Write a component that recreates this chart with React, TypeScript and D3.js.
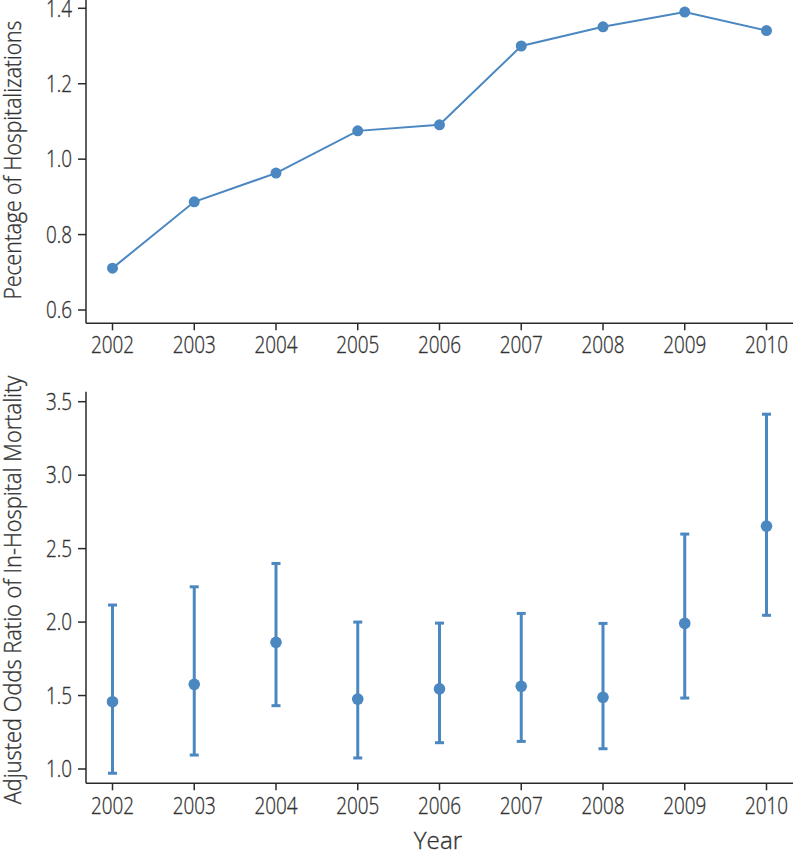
import React from "react";
import * as d3 from "d3";

const years = [2002, 2003, 2004, 2005, 2006, 2007, 2008, 2009, 2010];
const pctHosp = [0.711, 0.887, 0.963, 1.075, 1.091, 1.3, 1.351, 1.39, 1.341];
const oddsRatio = [1.458, 1.576, 1.862, 1.476, 1.546, 1.563, 1.488, 1.991, 2.653];
const ciLower = [0.971, 1.095, 1.431, 1.075, 1.179, 1.188, 1.138, 1.483, 2.046];
const ciUpper = [2.116, 2.24, 2.399, 2.0, 1.993, 2.059, 1.991, 2.599, 3.415];
const topTicks = [0.6, 0.8, 1.0, 1.2, 1.4];
const bottomTicks = [1.0, 1.5, 2.0, 2.5, 3.0, 3.5];

const COLOR = "#4b87c0";
const AXIS = "#2a2a2a";
const TEXT = "#333";
const FONT = "'Open Sans', sans-serif";

export default function App() {
  const x = d3.scalePoint<number>().domain(years).range([112.5, 766.5]);
  const yTop = d3.scaleLinear().domain([0.6, 1.4]).range([310, 8.3]);
  const yBot = d3.scaleLinear().domain([1.0, 3.5]).range([769, 401.7]);
  const axisX = 86;
  const topBase = 323.3;
  const botBase = 783.3;

  const line = d3
    .line<number>()
    .x((_, i) => x(years[i]) as number)
    .y((d) => yTop(d));

  const txt = (
    key: string,
    tx: number,
    ty: number,
    s: string,
    anchor: string,
    size = 23,
    rot = 0,
    sx = 0.82
  ) => (
    <text
      key={key}
      transform={`translate(${tx},${ty}) rotate(${rot}) scale(${sx},1)`}
      textAnchor={anchor}
      fontSize={size}
      fontFamily={FONT}
      fontWeight={300}
      stroke={TEXT}
      strokeWidth={0.35}
      fill={TEXT}
    >
      {s}
    </text>
  );

  return (
    <svg
      width={793}
      height={852}
      style={{ position: "absolute", left: 0, top: 0, background: "#fff" }}
    >
      {/* TOP PANEL */}
      <line x1={axisX} x2={axisX} y1={0} y2={topBase} stroke={AXIS} strokeWidth={1.5} />
      <line x1={axisX} x2={793} y1={topBase} y2={topBase} stroke={AXIS} strokeWidth={1.5} />
      {topTicks.map((t) => (
        <g key={"tt" + t}>
          <line x1={axisX - 8} x2={axisX} y1={yTop(t)} y2={yTop(t)} stroke={AXIS} strokeWidth={1.5} />
          {txt("ttl" + t, axisX - 14, yTop(t) + 8.3, d3.format(".1f")(t), "end")}
        </g>
      ))}
      {years.map((yr) => (
        <g key={"tx" + yr}>
          <line x1={x(yr)} x2={x(yr)} y1={topBase} y2={topBase + 7} stroke={AXIS} strokeWidth={1.5} />
          {txt("txl" + yr, x(yr) as number, 353.3, String(yr), "middle")}
        </g>
      ))}
      {txt("ylab1", 21, 160, "Pecentage of Hospitalizations", "middle", 23, -90, 0.92)}
      <path d={line(pctHosp) || ""} fill="none" stroke={COLOR} strokeWidth={2} />
      {pctHosp.map((v, i) => (
        <circle key={"p" + i} cx={x(years[i])} cy={yTop(v)} r={5.5} fill={COLOR} />
      ))}

      {/* BOTTOM PANEL */}
      <line x1={axisX} x2={axisX} y1={391.7} y2={botBase} stroke={AXIS} strokeWidth={1.5} />
      <line x1={axisX} x2={793} y1={botBase} y2={botBase} stroke={AXIS} strokeWidth={1.5} />
      {bottomTicks.map((t) => (
        <g key={"bt" + t}>
          <line x1={axisX - 8} x2={axisX} y1={yBot(t)} y2={yBot(t)} stroke={AXIS} strokeWidth={1.5} />
          {txt("btl" + t, axisX - 14, yBot(t) + 8.3, d3.format(".1f")(t), "end")}
        </g>
      ))}
      {years.map((yr) => (
        <g key={"bx" + yr}>
          <line x1={x(yr)} x2={x(yr)} y1={botBase} y2={botBase + 7} stroke={AXIS} strokeWidth={1.5} />
          {txt("bxl" + yr, x(yr) as number, 813.5, String(yr), "middle")}
        </g>
      ))}
      {txt("ylab2", 21, 590, "Adjusted Odds Ratio of In-Hospital Mortality", "middle", 23, -90, 0.95)}
      {txt("xlab", 438, 848.5, "Year", "middle", 23.5, 0, 1.03)}
      {years.map((yr, i) => {
        const cx = x(yr) as number;
        return (
          <g key={"e" + yr}>
            <line x1={cx} x2={cx} y1={yBot(ciLower[i])} y2={yBot(ciUpper[i])} stroke={COLOR} strokeWidth={3} />
            <line x1={cx - 4.5} x2={cx + 4.5} y1={yBot(ciLower[i])} y2={yBot(ciLower[i])} stroke={COLOR} strokeWidth={3} />
            <line x1={cx - 4.5} x2={cx + 4.5} y1={yBot(ciUpper[i])} y2={yBot(ciUpper[i])} stroke={COLOR} strokeWidth={3} />
            <circle cx={cx} cy={yBot(oddsRatio[i])} r={5.8} fill={COLOR} />
          </g>
        );
      })}
    </svg>
  );
}
